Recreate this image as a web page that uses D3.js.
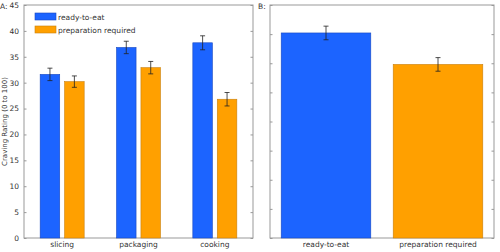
<!DOCTYPE html>
<html>
<head>
<meta charset="utf-8">
<script src="https://cdn.jsdelivr.net/npm/d3@7"></script>
<style>
  body { margin: 0; background: #fff; }
  text { font-family: "DejaVu Sans", sans-serif; fill: #333; }
</style>
</head>
<body>
<div id="vis"></div>
<script>
// panel A data
const stages = ["slicing", "packaging", "cooking"];
const seriesNames = ["ready-to-eat", "preparation required"];
const readyVals = [31.6, 36.8, 37.7];
const readyErr = [1.2, 1.2, 1.35];
const prepVals = [30.2, 32.9, 26.8];
const prepErr = [1.1, 1.2, 1.3];
const ticksA = [0, 5, 10, 15, 20, 25, 30, 35, 40, 45];

// panel B data
const totals = [35.2, 29.8];
const totalsErr = [1.17, 1.17];
const ticksB = [0, 5, 10, 15, 20, 25, 30, 35, 40];

const colors = ["#1c64ff", "#ffa000"];
const edges = ["#1848c0", "#c88010"];

const W = 500, H = 252;
const svg = d3.select("#vis").append("svg").attr("width", W).attr("height", H);

const plotTop = 5, plotBottom = 238;

// ---------- panel A ----------
const xA = d3.scaleBand().domain(stages).range([24, 253]);
const yA = d3.scaleLinear().domain([0, 45]).range([plotBottom, plotTop]);
const inner = d3.scaleBand().domain([0, 1]).range([-22, 22]).paddingInner(0.2);

const gA = svg.append("g");
gA.append("rect").attr("x", 24).attr("y", plotTop).attr("width", 229).attr("height", plotBottom - plotTop)
  .attr("fill", "none").attr("stroke", "#999").attr("stroke-width", 1);

const rowsA = [
  { vals: readyVals, err: readyErr },
  { vals: prepVals, err: prepErr }
];

rowsA.forEach((row, s) => {
  const g = gA.append("g");
  g.selectAll("rect").data(stages).join("rect")
    .attr("x", d => xA(d) + xA.bandwidth() / 2 + inner(s))
    .attr("y", (d, i) => yA(row.vals[i]))
    .attr("width", inner.bandwidth())
    .attr("height", (d, i) => plotBottom - yA(row.vals[i]))
    .attr("fill", colors[s]).attr("stroke", edges[s]).attr("stroke-width", 0.6);
  stages.forEach((d, i) => {
    const cx = xA(d) + xA.bandwidth() / 2 + inner(s) + inner.bandwidth() / 2;
    const y1 = yA(row.vals[i] + row.err[i]), y2 = yA(row.vals[i] - row.err[i]);
    g.append("path")
      .attr("d", `M${cx},${y1}V${y2}M${cx - 2.5},${y1}H${cx + 2.5}M${cx - 2.5},${y2}H${cx + 2.5}`)
      .attr("stroke", "#222").attr("stroke-width", 0.8).attr("fill", "none");
  });
});

const axL = gA.append("g").attr("transform", "translate(24,0)")
  .call(d3.axisLeft(yA).tickValues(ticksA).tickSize(-2.5).tickPadding(5));
const axR = gA.append("g").attr("transform", "translate(253,0)")
  .call(d3.axisRight(yA).tickValues(ticksA).tickSize(-2.5).tickFormat(""));
const axB = gA.append("g").attr("transform", `translate(0,${plotBottom})`)
  .call(d3.axisBottom(xA).tickSize(0).tickPadding(4));
[axL, axR, axB].forEach(a => {
  a.select(".domain").remove();
  a.selectAll("line").attr("stroke", "#999");
  a.selectAll("text").style("font-size", "7.5px").attr("fill", "#333");
});

gA.append("text").attr("transform", `translate(7,${(plotTop + plotBottom) / 2}) rotate(-90)`)
  .attr("text-anchor", "middle").style("font-size", "7px").text("Craving Rating (0 to 100)");
gA.append("text").attr("x", 0).attr("y", 9).style("font-size", "7.5px").text("A:");

// legend
const leg = gA.append("g");
seriesNames.forEach((n, i) => {
  leg.append("rect").attr("x", 35).attr("y", 13 + i * 13).attr("width", 21).attr("height", 7)
    .attr("fill", colors[i]).attr("stroke", edges[i]).attr("stroke-width", 0.6);
  leg.append("text").attr("x", 58).attr("y", 19.5 + i * 13).style("font-size", "7.5px").text(n);
});

// ---------- panel B ----------
const xB = d3.scaleBand().domain(seriesNames).range([270, 494]).paddingInner(0.2).paddingOuter(0.1);
const yB = d3.scaleLinear().domain([0, 40]).range([plotBottom, plotTop]);

const gB = svg.append("g");
gB.append("rect").attr("x", 270).attr("y", plotTop).attr("width", 224).attr("height", plotBottom - plotTop)
  .attr("fill", "none").attr("stroke", "#999").attr("stroke-width", 1);

gB.selectAll("rect.bar").data(seriesNames).join("rect").attr("class", "bar")
  .attr("x", d => xB(d))
  .attr("y", (d, i) => yB(totals[i]))
  .attr("width", xB.bandwidth())
  .attr("height", (d, i) => plotBottom - yB(totals[i]))
  .attr("fill", (d, i) => colors[i]).attr("stroke", (d, i) => edges[i]).attr("stroke-width", 0.6);

seriesNames.forEach((d, i) => {
  const cx = xB(d) + xB.bandwidth() / 2;
  const y1 = yB(totals[i] + totalsErr[i]), y2 = yB(totals[i] - totalsErr[i]);
  gB.append("path")
    .attr("d", `M${cx},${y1}V${y2}M${cx - 2.5},${y1}H${cx + 2.5}M${cx - 2.5},${y2}H${cx + 2.5}`)
    .attr("stroke", "#222").attr("stroke-width", 0.8).attr("fill", "none");
});

const bL = gB.append("g").attr("transform", "translate(270,0)")
  .call(d3.axisLeft(yB).tickValues(ticksB).tickSize(-2.5).tickFormat(""));
const bR = gB.append("g").attr("transform", "translate(494,0)")
  .call(d3.axisRight(yB).tickValues(ticksB).tickSize(-2.5).tickFormat(""));
const bX = gB.append("g").attr("transform", `translate(0,${plotBottom})`)
  .call(d3.axisBottom(xB).tickSize(0).tickPadding(4));
[bL, bR, bX].forEach(a => {
  a.select(".domain").remove();
  a.selectAll("line").attr("stroke", "#999");
  a.selectAll("text").style("font-size", "7.5px").attr("fill", "#333");
});
gB.append("text").attr("x", 258).attr("y", 9).style("font-size", "7.5px").text("B:");
</script>
</body>
</html>
